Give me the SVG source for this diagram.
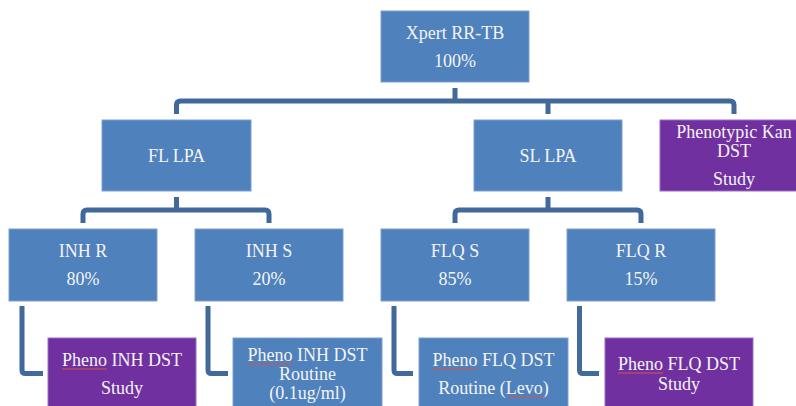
<svg xmlns="http://www.w3.org/2000/svg" width="796" height="406" viewBox="0 0 796 406">
<style>
.b{fill:#4F81BD;stroke:#7EA1CF;stroke-width:1}
.p{fill:#7030A0;stroke:#9B6CC4;stroke-width:1}
text{font-family:"Liberation Serif","Times New Roman",serif;font-size:18px;fill:#F4F4F4;text-anchor:middle}
.c{fill:none;stroke:#41699B;stroke-width:5;stroke-linejoin:round}
.u{fill:none;stroke:#D9534F;stroke-width:1}
</style>
<rect width="796" height="406" fill="#FFFFFF"/>
<g id="connectors">
<path class="c" d="M455,88 V101 M176.5,114 V105 Q176.5,101 180.5,101 H730 Q734,101 734,105 V114 M548,101 V114"/>
<path class="c" d="M176.5,197 V210 M83,223 V214 Q83,210 87,210 H265 Q269,210 269,214 V223"/>
<path class="c" d="M548,197 V210 M455,223 V214 Q455,210 459,210 H637 Q641,210 641,214 V223"/>
<path class="c" d="M22,306 V370 Q22,373.5 25.5,373.5 H43"/>
<path class="c" d="M208,306 V370 Q208,373.5 211.5,373.5 H228"/>
<path class="c" d="M394,306 V370 Q394,373.5 397.5,373.5 H413"/>
<path class="c" d="M579.5,306 V370 Q579.5,373.5 583,373.5 H599"/>
</g>
<g id="xpert"><rect class="b" x="381" y="11" width="148" height="71"/><text x="455" y="39">Xpert RR-TB</text><text x="455" y="67">100%</text></g>
<g id="fl-lpa"><rect class="b" x="102" y="120" width="149" height="71"/><text x="176.5" y="162">FL LPA</text></g>
<g id="sl-lpa"><rect class="b" x="474" y="120" width="148" height="71"/><text x="548" y="162">SL LPA</text></g>
<g id="kan"><rect class="p" x="660" y="120" width="148" height="71"/><text x="734" y="138">Phenotypic Kan</text><text x="734" y="157">DST</text><text x="734" y="185">Study</text></g>
<g id="inh-r"><rect class="b" x="9" y="229" width="148" height="72"/><text x="83" y="257">INH R</text><text x="83" y="285">80%</text></g>
<g id="inh-s"><rect class="b" x="195" y="229" width="148" height="72"/><text x="269" y="257">INH S</text><text x="269" y="285">20%</text></g>
<g id="flq-s"><rect class="b" x="381" y="229" width="148" height="72"/><text x="455" y="257">FLQ S</text><text x="455" y="285">85%</text></g>
<g id="flq-r"><rect class="b" x="567" y="229" width="148" height="72"/><text x="641" y="257">FLQ R</text><text x="641" y="285">15%</text></g>
<g id="pheno-inh-study"><rect class="p" x="48" y="338" width="148" height="80"/><text x="122" y="366">Pheno INH DST</text><text x="122" y="394">Study</text><path class="u" d="M62,369 H107"/></g>
<g id="pheno-inh-routine"><rect class="b" x="233" y="338" width="149" height="80"/><text x="307.5" y="361">Pheno INH DST</text><text x="307.5" y="380">Routine</text><text x="307.5" y="399">(0.1ug/ml)</text><path class="u" d="M247.5,364 H292.5"/></g>
<g id="pheno-flq-routine"><rect class="b" x="419" y="338" width="149" height="80"/><text x="493.5" y="366">Pheno FLQ DST</text><text x="493.5" y="394">Routine (Levo)</text><path class="u" d="M432,369 H477 M508,397 H545"/></g>
<g id="pheno-flq-study"><rect class="p" x="605" y="338" width="148" height="80"/><text x="679" y="370">Pheno FLQ DST</text><text x="679" y="390">Study</text><path class="u" d="M618,373 H663"/></g>
</svg>
